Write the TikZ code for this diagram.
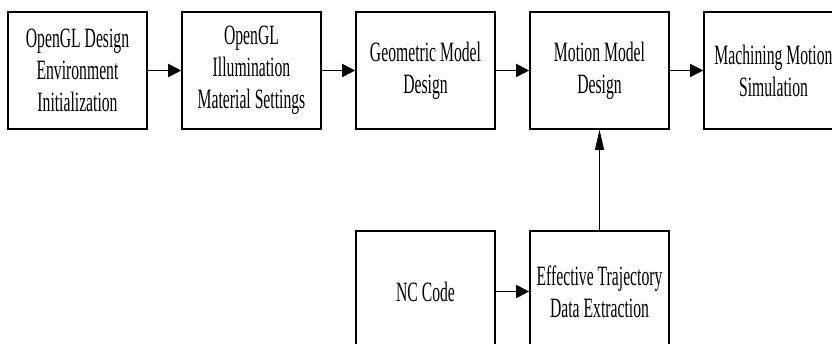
\documentclass[tikz,border=0pt]{standalone}
\usepackage{fontspec}
\setmainfont{Liberation Serif}[FakeStretch=0.56]
\usetikzlibrary{arrows.meta}
\begin{document}
\begin{tikzpicture}[x=1pt,y=-1pt,
 box/.style={draw, line width=1.6pt, minimum width=139pt, minimum height=117pt, inner sep=0pt, align=center, font=\fontsize{28}{32}\selectfont},
 lowbox/.style={box, minimum height=121pt},
 flow/.style={-{Triangle[length=13pt,width=13pt]}, line width=1.8pt},
 feed/.style={-{Triangle[length=20pt,width=9pt]}, line width=0.9pt}]
\useasboundingbox (0,0) rectangle (832,344);
\clip (0,0) rectangle (832,344);
\node[box] (a) at (77.5,70.5) {OpenGL Design\\Environment\\Initialization};
\node[box] (b) at (251.5,70.5) {OpenGL\\Illumination\\Material Settings};
\node[box] (c) at (425.5,70.5) {Geometric Model\\Design};
\node[box] (d) at (599.5,70.5) {Motion Model\\Design};
\node[box] (e) at (773.5,70.5) {Machining Motion\\Simulation};
\node[lowbox] (n) at (425.5,291.5) {NC Code};
\node[lowbox] (t) at (599.5,291.5) {Effective Trajectory\\Data Extraction};
\draw[flow] (a.east) -- (b.west);
\draw[flow] (b.east) -- (c.west);
\draw[flow] (c.east) -- (d.west);
\draw[flow] (d.east) -- (e.west);
\draw[flow] (n.east) -- (t.west);
\draw[feed] (t.north) -- (d.south);
\end{tikzpicture}
\end{document}
